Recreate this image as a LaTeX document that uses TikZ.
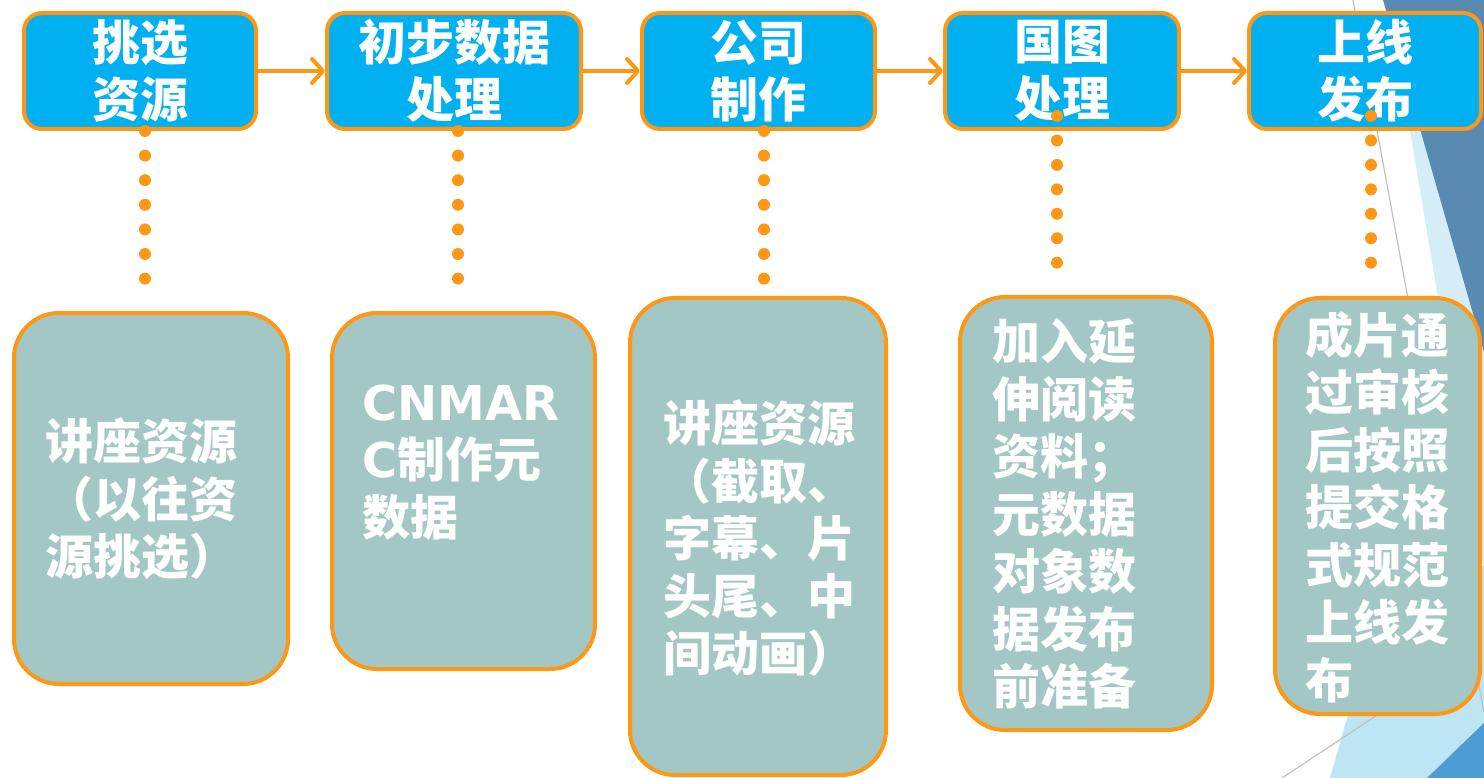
\documentclass[tikz,border=0pt]{standalone}
\usepackage{fontspec}
\newfontfamily\cjk{Noto Sans CJK SC}
\newfontfamily\latinwide{DejaVu Sans}
\usetikzlibrary{arrows.meta}
\definecolor{boxblue}{RGB}{0,176,240}
\definecolor{edgeorange}{RGB}{252,152,22}
\definecolor{greyteal}{RGB}{162,199,197}
\definecolor{facetdark}{RGB}{88,138,178}
\definecolor{facetpale}{RGB}{212,237,248}
\definecolor{facetlight}{RGB}{189,229,244}
\definecolor{facetmid}{RGB}{77,156,212}
\definecolor{facetline}{RGB}{192,192,192}
\begin{document}
\begin{tikzpicture}[x=1pt,y=-1pt,
  topbox/.style={draw=edgeorange, line width=4pt, fill=boxblue, rounded corners=18pt,
    text=white, align=center, inner sep=0pt, minimum height=116pt,
    font=\cjk\bfseries\fontsize{48}{57}\selectfont},
  botbox/.style={draw=edgeorange, line width=4pt, fill=greyteal, rounded corners=45pt, inner sep=0pt},
  bottext/.style={text=white, align=left, inner sep=0pt, anchor=west,
    font=\cjk\bfseries\fontsize{48}{57.5}\selectfont},
  flow/.style={draw=edgeorange, line width=4pt, -{Straight Barb[length=11pt,width=24pt,round]}},
  dots/.style={draw=edgeorange, line width=12pt, line cap=round, dash pattern=on 0pt off 24.6pt}]
\useasboundingbox (0,0) rectangle (1484,778);
% background facets
\fill[facetpale] (1388,0) -- (1484,571) -- (1484,0) -- cycle;
\fill[facetdark] (1383,0) -- (1484,352) -- (1484,0) -- cycle;
\fill[facetlight] (1330,778) -- (1390,566) -- (1484,566) -- (1484,778) -- cycle;
\fill[facetmid] (1427,778) -- (1484,723) -- (1484,778) -- cycle;
\draw[facetline, line width=1.2pt] (1353,0) -- (1484,712);
\draw[facetline, line width=1.2pt] (1282,778) -- (1400,700);
% top boxes
\node[topbox, minimum width=232pt] (t1) at (140,71) {挑选\\资源};
\node[topbox, minimum width=254pt] (t2) at (454,71) {初步数据\\处理};
\node[topbox, minimum width=233pt] (t3) at (758.5,71) {公司\\制作};
\node[topbox, minimum width=234pt] (t4) at (1062,71) {国图\\处理};
\node[topbox, minimum width=232pt] (t5) at (1365,71) {上线\\发布};
\draw[flow] (t1.east) -- (t2.west);
\draw[flow] (t2.east) -- (t3.west);
\draw[flow] (t3.east) -- (t4.west);
\draw[flow] (t4.east) -- (t5.west);
% bottom boxes
\node[botbox, minimum width=274pt, minimum height=371pt] (b1) at (151,498.5) {};
\node[botbox, minimum width=263pt, minimum height=356pt] (b2) at (463.5,491) {};
\node[botbox, minimum width=256pt, minimum height=477pt] (b3) at (758,536.5) {};
\node[botbox, minimum width=252pt, minimum height=433pt] (b4) at (1086,513.5) {};
\node[botbox, minimum width=205pt, minimum height=416pt] (b5) at (1377.5,506) {};
\node[bottext] (l1) at (45,499) {讲座资源\\（以往资\\源挑选）};
\node[bottext] (l2) at (362,462.5) {{\latinwide\bfseries CNMAR}\\{\latinwide\bfseries C}制作元\\数据};
\node[bottext] (l3) at (663,538.5) {讲座资源\\（截取、\\字幕、片\\头尾、中\\间动画）};
\node[bottext] (l4) at (992,514) {加入延\\伸阅读\\资料；\\元数据\\对象数\\据发布\\前准备};
\node[bottext] (l5) at (1305,507) {成片通\\过审核\\后按照\\提交格\\式规范\\上线发\\布};
% dotted links
\coordinate (d1a) at (145,131); \coordinate (d1b) at (145,279);
\coordinate (d2a) at (458,131); \coordinate (d2b) at (458,279);
\coordinate (d3a) at (764,131); \coordinate (d3b) at (764,279);
\coordinate (d4a) at (1057,116); \coordinate (d4b) at (1057,263);
\coordinate (d5a) at (1371,116); \coordinate (d5b) at (1371,263);
\draw[dots] (d1a) -- (d1b);
\draw[dots] (d2a) -- (d2b);
\draw[dots] (d3a) -- (d3b);
\draw[dots, dash pattern=on 0pt off 24.45pt] (d4a) -- (d4b);
\draw[dots, dash pattern=on 0pt off 24.45pt] (d5a) -- (d5b);
\end{tikzpicture}
\end{document}
